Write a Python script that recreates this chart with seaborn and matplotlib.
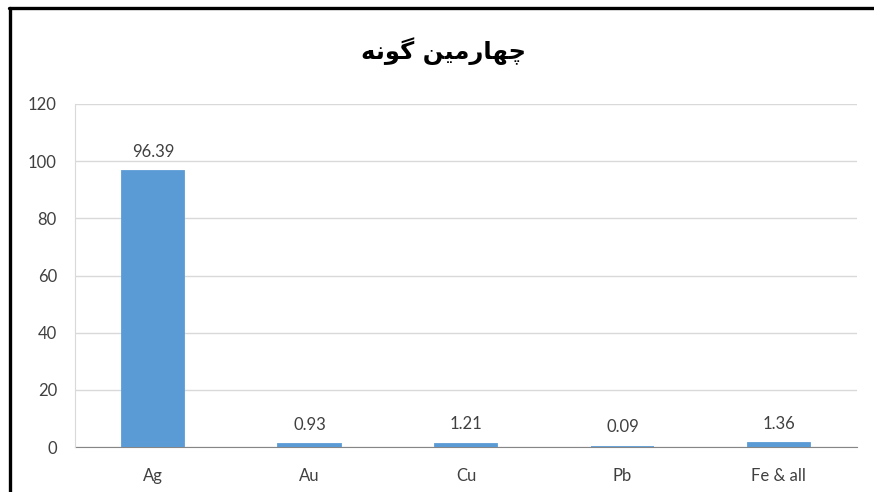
import matplotlib
matplotlib.use("Agg")
import matplotlib.pyplot as plt
import seaborn as sns
import pandas as pd
from matplotlib.lines import Line2D

# --- data ---
elements = ["Ag", "Au", "Cu", "Pb", "Fe & all"]
percent = [96.39, 0.93, 1.21, 0.09, 1.36]
y_ticks = [0, 20, 40, 60, 80, 100, 120]
# "چهارمین گونه" in Arabic presentation forms, visual (left-to-right) order,
# since matplotlib does no shaping / bidi on its own
title_text = "\uFEEA\uFEE7\uFEEE\uFB94 \uFEE6\uFBFF\uFEE3\uFEAD\uFE8E\uFEEC\uFB7C"

BAR_COLOR = "#5B9BD5"
GRID_COLOR = "#D9D9D9"
AXIS_COLOR = "#868686"
TEXT_COLOR = "#404040"

df = pd.DataFrame({"element": elements, "percent": percent})

sns.set_style("white")
plt.rcParams["font.family"] = ["Lato", "DejaVu Sans"]

fig = plt.figure(figsize=(8.74, 4.92), dpi=100)
ax = fig.add_axes([75 / 874, 45 / 492, 782 / 874, 343 / 492])

sns.barplot(data=df, x="element", y="percent", color=BAR_COLOR, width=0.4,
            saturation=1, edgecolor=BAR_COLOR, linewidth=1.3, ax=ax, zorder=3)

ax.set_ylim(0, 120)
ax.set_xlim(-0.5, len(elements) - 0.5)
ax.set_yticks(y_ticks)
ax.yaxis.grid(True, color=GRID_COLOR, linewidth=1, zorder=0)
ax.set_axisbelow(True)
ax.set_xlabel("")
ax.set_ylabel("")

for side in ["top", "right"]:
    ax.spines[side].set_visible(False)
ax.spines["left"].set_color(GRID_COLOR)
ax.spines["bottom"].set_color(AXIS_COLOR)
ax.spines["bottom"].set_zorder(2)

ax.tick_params(axis="y", length=6, color=GRID_COLOR, labelsize=12,
               labelcolor=TEXT_COLOR, pad=7)
ax.tick_params(axis="x", which="major", length=0, labelsize=12,
               labelcolor=TEXT_COLOR, pad=15)
ax.set_xticks([i - 0.5 for i in range(len(elements) + 1)], minor=True)
ax.tick_params(axis="x", which="minor", length=5, color=AXIS_COLOR)

for i, v in enumerate(percent):
    ax.text(i, v + 4, f"{v:.2f}", ha="center", va="bottom",
            fontsize=12, color=TEXT_COLOR)

fig.text(0.508, 0.897, title_text, ha="center", va="center", fontsize=17.5,
         fontweight="bold", family=["DejaVu Sans"], color="black")

# outer frame of the original chart (only top and left edges are in view)
fig.add_artist(Line2D([9 / 874, 1], [1 - 7.5 / 492, 1 - 7.5 / 492],
                      color="black", linewidth=2.4))
fig.add_artist(Line2D([9.5 / 874, 9.5 / 874], [0, 1 - 7.5 / 492],
                      color="black", linewidth=2.4))

fig.savefig("out.png", dpi=100)
